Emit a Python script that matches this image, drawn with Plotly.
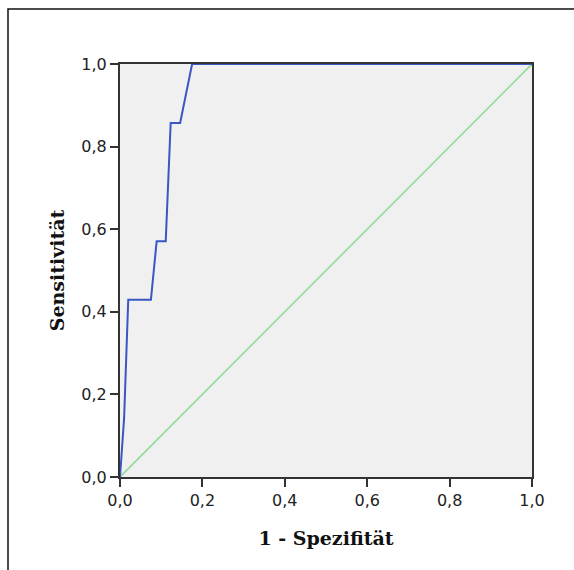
import plotly.graph_objects as go

# ROC curve (1 - specificity, sensitivity)
fpr = [0.0, 0.010, 0.015, 0.020, 0.075, 0.089, 0.111, 0.123, 0.146, 0.175, 1.0]
tpr = [0.0, 0.143, 0.286, 0.429, 0.429, 0.571, 0.571, 0.857, 0.857, 1.0, 1.0]
ref_x = [0.0, 1.0]
ref_y = [0.0, 1.0]
ticks = [0.0, 0.2, 0.4, 0.6, 0.8, 1.0]

fig = go.Figure()
fig.add_trace(go.Scatter(x=ref_x, y=ref_y, mode="lines",
                         line=dict(color="#8fdc97", width=1.6), hoverinfo="skip"))
fig.add_trace(go.Scatter(x=fpr, y=tpr, mode="lines",
                         line=dict(color="#3b55c4", width=2)))

axis_common = dict(
    range=[0, 1], tickvals=ticks, tickformat=".1f",
    showgrid=False, zeroline=False,
    showline=True, linecolor="#333333", linewidth=2, mirror=True,
    ticks="outside", ticklen=8, tickwidth=2, tickcolor="#333333",
    tickfont=dict(family="DejaVu Sans", size=16, color="#222222"),
    fixedrange=True,
)

fig.update_layout(
    width=574, height=570,
    margin=dict(l=120, r=42, t=64, b=93),
    paper_bgcolor="white", plot_bgcolor="#f0f0f0",
    separators=",.",
    showlegend=False,
    xaxis=dict(**axis_common,
               title=dict(text="<b>1 - Spezifität</b>", standoff=22,
                          font=dict(family="DejaVu Serif", size=19, color="#111111"))),
    yaxis=dict(**axis_common,
               title=dict(text="<b>Sensitivität</b>", standoff=12,
                          font=dict(family="DejaVu Serif", size=19, color="#111111"))),
    shapes=[dict(type="rect", xref="paper", yref="paper",
                 x0=(8 - 120) / 412, x1=1.3, y0=-0.4, y1=(477 - 9) / 413,
                 line=dict(color="#111111", width=1.5), fillcolor="rgba(0,0,0,0)",
                 layer="below")],
)

fig.write_html("out.html")
